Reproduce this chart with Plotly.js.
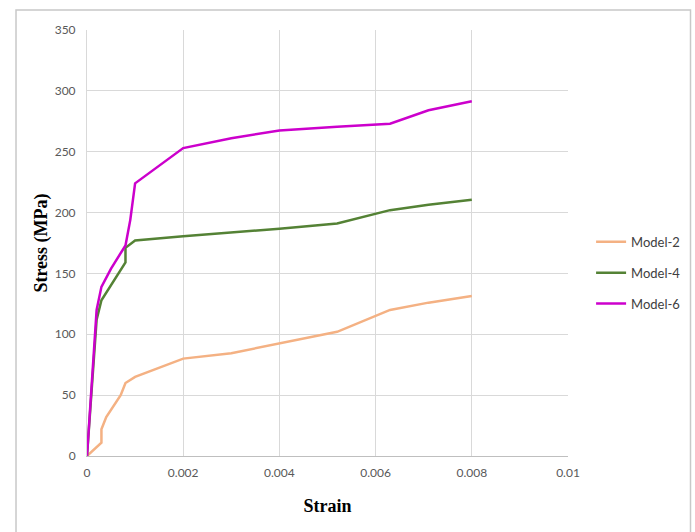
<!DOCTYPE html>
<html>
<head>
<meta charset="utf-8">
<script src="https://cdn.plot.ly/plotly-3.0.1.min.js"></script>
<style>html,body{margin:0;padding:0;background:#fff;}#chart{width:695px;height:532px;}</style>
</head>
<body>
<div id="chart"></div>
<script>
const model2Strain = [0, 0.0003, 0.0003, 0.0004, 0.0007, 0.0008, 0.001, 0.002, 0.003, 0.004, 0.0052, 0.0063, 0.0071, 0.008];
const model2Stress = [0, 11, 22, 32, 50, 60, 65, 80, 84.5, 92.5, 102, 120, 126, 131.5];

const model4Strain = [0, 0.0002, 0.0003, 0.0005, 0.0008, 0.0008, 0.001, 0.002, 0.003, 0.004, 0.0052, 0.0063, 0.0071, 0.008];
const model4Stress = [0, 112, 128, 140, 159, 171, 177, 180.6, 183.5, 186.8, 191, 202, 206.5, 210.5];

const model6Strain = [0, 0.0002, 0.0003, 0.0005, 0.0008, 0.0009, 0.001, 0.002, 0.003, 0.004, 0.0052, 0.0063, 0.0071, 0.008];
const model6Stress = [0, 120, 139, 154, 173, 194, 224, 253, 261, 267.5, 270.5, 273, 284, 291.5];

const seriesNames = ["Model-2", "Model-4", "Model-6"];
const colors = ["#f4b183", "#548235", "#cc00cc"];

const xs = [model2Strain, model4Strain, model6Strain];
const ys = [model2Stress, model4Stress, model6Stress];

const traces = seriesNames.map((n, i) => ({
  x: xs[i], y: ys[i], name: n, type: "scatter", mode: "lines",
  legendgroup: "g" + i,
  line: {color: colors[i], width: 2.5}
}));

const tickFont = {family: "Lato, 'Open Sans', sans-serif", size: 12, color: "#595959"};
const layout = {
  width: 695, height: 532,
  margin: {l: 87, r: 127, t: 30, b: 76, autoexpand: false},
  paper_bgcolor: "#fff", plot_bgcolor: "#fff",
  showlegend: true,
  legend: {
    x: 1.048, xanchor: "left", y: 0.43, yanchor: "middle",
    font: {family: "Lato, 'Open Sans', sans-serif", size: 13, color: "#404040"},
    traceorder: "grouped", tracegroupgap: 11,
    bgcolor: "rgba(0,0,0,0)"
  },
  xaxis: {
    range: [0, 0.01], tickvals: [0, 0.002, 0.004, 0.006, 0.008, 0.01],
    ticktext: ["0", "0.002", "0.004", "0.006", "0.008", "0.01"],
    showgrid: true, gridcolor: "#d9d9d9", gridwidth: 1,
    zeroline: false, showline: true, linecolor: "#bfbfbf", linewidth: 1,
    ticks: "", tickfont: tickFont, ticklabelstandoff: 6,
    title: {text: "Strain", standoff: 19, font: {family: "'Liberation Serif', 'Times New Roman', serif", size: 18, color: "#000", weight: "bold"}}
  },
  yaxis: {
    range: [0, 350], tickvals: [0, 50, 100, 150, 200, 250, 300, 350],
    showgrid: true, gridcolor: "#d9d9d9", gridwidth: 1,
    zeroline: false, showline: true, linecolor: "#d9d9d9", linewidth: 1,
    ticks: "", tickfont: tickFont, ticklabelstandoff: 8,
    title: {text: "Stress (MPa)", standoff: 2, font: {family: "'Liberation Serif', 'Times New Roman', serif", size: 18, color: "#000", weight: "bold"}}
  },
  shapes: [{
    type: "rect", xref: "paper", yref: "paper",
    x0: -0.1476, x1: 1.2547, y0: -0.25, y1: 1.0469,
    line: {color: "#c8c8c8", width: 1.5}, fillcolor: "rgba(0,0,0,0)", layer: "below"
  }]
};

Plotly.newPlot("chart", traces, layout, {displayModeBar: false, staticPlot: true});
</script>
</body>
</html>
